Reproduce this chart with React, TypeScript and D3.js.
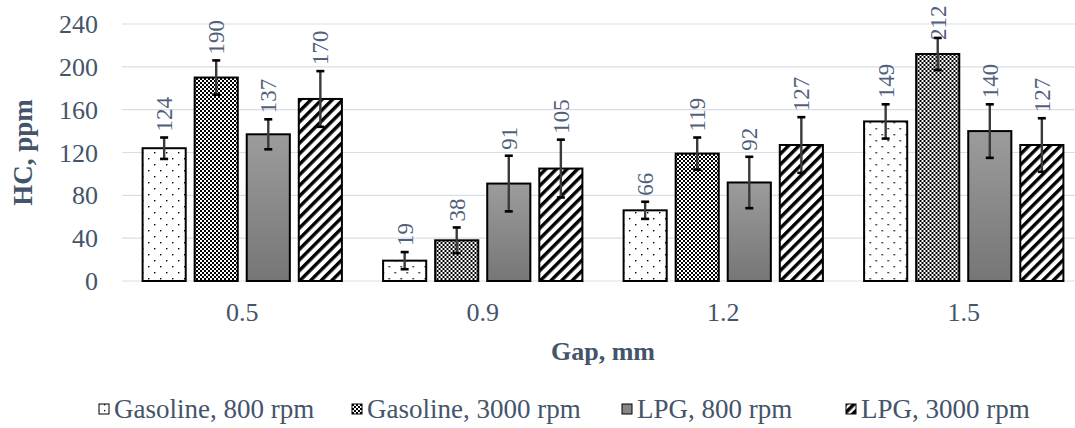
import React from "react";
import * as d3 from "d3";

const categories = ["0.5", "0.9", "1.2", "1.5"];
const seriesNames = ["Gasoline, 800 rpm", "Gasoline, 3000 rpm", "LPG, 800 rpm", "LPG, 3000 rpm"];
const gasoline800 = [124, 19, 66, 149];
const gasoline3000 = [190, 38, 119, 212];
const lpg800 = [137, 91, 92, 140];
const lpg3000 = [170, 105, 127, 127];
const gasoline800Err = [10, 8, 8, 16];
const gasoline3000Err = [16, 12, 15, 15];
const lpg800Err = [14, 26, 24, 25];
const lpg3000Err = [26, 27, 26, 25];
const yTicks = [0, 40, 80, 120, 160, 200, 240];

const seriesValues = [gasoline800, gasoline3000, lpg800, lpg3000];
const seriesErrors = [gasoline800Err, gasoline3000Err, lpg800Err, lpg3000Err];
const fills = ["url(#dots)", "url(#checker)", "url(#grayGrad)", "url(#stripes)"];
const legendFills = ["url(#dotsS)", "url(#checkerS)", "#878787", "url(#stripesS)"];

const W = 1075;
const H = 428;
const FONT = "'Liberation Serif', 'Times New Roman', serif";
const TXT = "#44546A";

export default function App() {
  const x0 = d3.scaleBand<string>().domain(categories).range([122, 1084]).padding(0);
  const groupGap = 20.6;
  const x1 = d3
    .scaleBand<string>()
    .domain(seriesNames)
    .range([groupGap, x0.bandwidth() - groupGap])
    .paddingInner(0.172)
    .paddingOuter(0);
  const y = d3.scaleLinear().domain([0, 240]).range([281, 24]);

  const legendMarkerX = [99, 352, 622, 846];

  return (
    <svg width={W} height={H} style={{ position: "absolute", left: 0, top: 0, background: "#fff" }} fontFamily={FONT}>
      <defs>
        <pattern id="dots" width="12" height="12" patternUnits="userSpaceOnUse">
          <rect width="12" height="12" fill="#fff" />
          <rect x="2" y="2" width="1.4" height="1.4" fill="#000" />
          <rect x="8" y="8" width="1.4" height="1.4" fill="#000" />
        </pattern>
        <pattern id="dotsS" width="6" height="6" patternUnits="userSpaceOnUse">
          <rect width="6" height="6" fill="#fff" />
          <rect x="2" y="2" width="1.3" height="1.3" fill="#000" />
        </pattern>
        <pattern id="checker" width="4" height="4" patternUnits="userSpaceOnUse">
          <rect width="4" height="4" fill="#fff" />
          <rect x="0" y="0" width="2" height="2" fill="#000" />
          <rect x="2" y="2" width="2" height="2" fill="#000" />
        </pattern>
        <pattern id="checkerS" width="4" height="4" patternUnits="userSpaceOnUse">
          <rect width="4" height="4" fill="#fff" />
          <rect x="0" y="0" width="2" height="2" fill="#000" />
          <rect x="2" y="2" width="2" height="2" fill="#000" />
        </pattern>
        <linearGradient id="grayGrad" x1="0" y1="0" x2="0" y2="1">
          <stop offset="0" stopColor="#9c9c9c" />
          <stop offset="1" stopColor="#767676" />
        </linearGradient>
        <pattern id="stripes" width="7.5" height="7.5" patternUnits="userSpaceOnUse" patternTransform="rotate(45)">
          <rect width="7.5" height="7.5" fill="#fff" />
          <rect x="0" y="0" width="3.4" height="7.5" fill="#000" />
        </pattern>
        <pattern id="stripesS" width="6" height="6" patternUnits="userSpaceOnUse" patternTransform="rotate(45)">
          <rect width="6" height="6" fill="#fff" />
          <rect x="0" y="0" width="3.5" height="6" fill="#000" />
        </pattern>
      </defs>

      {/* gridlines */}
      {yTicks.map((t) => (
        <line key={"g" + t} x1={122} x2={1084} y1={y(t)} y2={y(t)} stroke="#D9DDE6" strokeWidth={1.2} />
      ))}

      {/* y tick labels */}
      {yTicks.map((t) => (
        <text key={"t" + t} x={98} y={y(t)} dy="0.35em" textAnchor="end" fontSize={26} fill={TXT}>
          {t}
        </text>
      ))}

      {/* bars */}
      {categories.map((c, ci) => (
        <g key={c} transform={`translate(${x0(c)},0)`}>
          {seriesNames.map((s, si) => {
            const v = seriesValues[si][ci];
            const bx = x1(s)!;
            const bw = x1.bandwidth();
            return (
              <rect key={s} x={bx} y={y(v)} width={bw} height={y(0) - y(v)} fill={fills[si]} stroke="#000" strokeWidth={2} />
            );
          })}
          {seriesNames.map((s, si) => {
            const v = seriesValues[si][ci];
            const e = seriesErrors[si][ci];
            const cx = x1(s)! + x1.bandwidth() / 2;
            return (
              <g key={"e" + s}>
                <line x1={cx} x2={cx} y1={y(v + e)} y2={y(v - e)} stroke="#3a3a3a" strokeWidth={2.4} />
                <line x1={cx - 4} x2={cx + 4} y1={y(v + e)} y2={y(v + e)} stroke="#000" strokeWidth={2.6} />
                <line x1={cx - 4} x2={cx + 4} y1={y(v - e)} y2={y(v - e)} stroke="#000" strokeWidth={2.6} />
              </g>
            );
          })}
          {seriesNames.map((s, si) => {
            const v = seriesValues[si][ci];
            const e = seriesErrors[si][ci];
            const cx = x1(s)! + x1.bandwidth() / 2;
            const ly = Math.max(y(v + e) - 6, 40);
            return (
              <text
                key={"l" + s}
                transform={`translate(${cx + 8},${ly}) rotate(-90)`}
                fontSize={23}
                fill="#50607A"
                textAnchor="start"
              >
                {v}
              </text>
            );
          })}
        </g>
      ))}

      {/* x tick labels */}
      {categories.map((c) => (
        <text key={"x" + c} x={x0(c)! + x0.bandwidth() / 2} y={321} textAnchor="middle" fontSize={26} fill={TXT}>
          {c}
        </text>
      ))}

      {/* axis titles */}
      <text x={603} y={360} textAnchor="middle" fontSize={26} fontWeight="bold" fill={TXT}>
        Gap, mm
      </text>
      <text transform={`translate(32,${(y(0) + y(240)) / 2}) rotate(-90)`} textAnchor="middle" fontSize={27} fontWeight="bold" fill={TXT}>
        HC, ppm
      </text>

      {/* legend */}
      {seriesNames.map((s, i) => (
        <g key={"lg" + s}>
          <rect x={legendMarkerX[i]} y={404} width={10} height={10} fill={legendFills[i]} stroke="#000" strokeWidth={1} />
          <text x={legendMarkerX[i] + 15} y={418} fontSize={27} fill={TXT}>
            {s}
          </text>
        </g>
      ))}
    </svg>
  );
}
